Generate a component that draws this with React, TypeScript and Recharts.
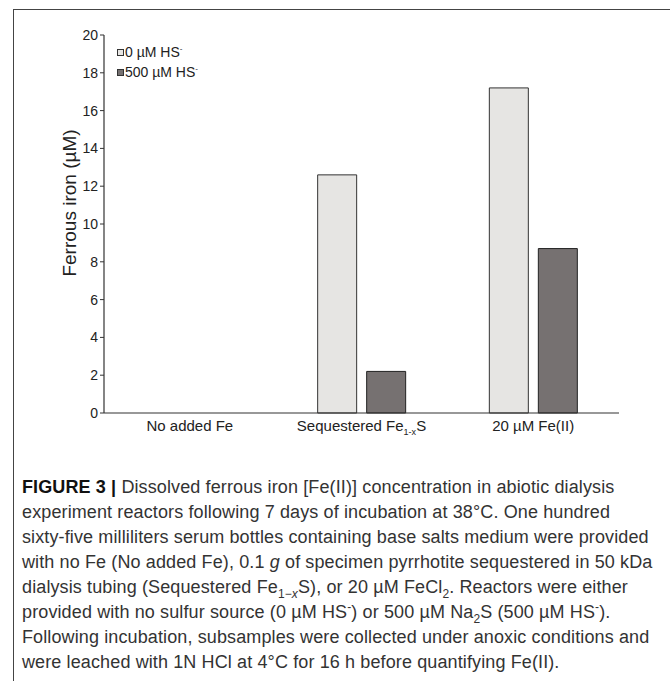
import React from 'react';
import { BarChart, Bar, XAxis, YAxis } from 'recharts';

const categories = ['No added Fe', 'Sequestered Fe1-xS', '20 µM Fe(II)'];
const noSulfide = [0, 12.6, 17.2];
const withSulfide = [0, 2.2, 8.7];
const yTicks = [0, 2, 4, 6, 8, 10, 12, 14, 16, 18, 20];
const legendLabels = ['0 µM HS', '500 µM HS'];

const data = categories.map((name, i) => ({
  name,
  hs0: noSulfide[i],
  hs500: withSulfide[i],
}));

const captionLines = [
  ['FIGURE 3 | ', 'Dissolved ferrous iron [Fe(II)] concentration in abiotic dialysis'],
  ['', 'experiment reactors following 7 days of incubation at 38°C. One hundred'],
  ['', 'sixty-five milliliters serum bottles containing base salts medium were provided'],
  ['', 'with no Fe (No added Fe), 0.1 g of specimen pyrrhotite sequestered in 50 kDa'],
  ['', 'dialysis tubing (Sequestered Fe1−xS), or 20 µM FeCl2. Reactors were either'],
  ['', 'provided with no sulfur source (0 µM HS-) or 500 µM Na2S (500 µM HS-).'],
  ['', 'Following incubation, subsamples were collected under anoxic conditions and'],
  ['', 'were leached with 1N HCl at 4°C for 16 h before quantifying Fe(II).'],
];

const FONT = '"Liberation Sans", Arial, Helvetica, sans-serif';
const LIGHT = '#e6e5e3';
const DARK = '#767171';

const XTick = ({ x, y, payload }: any) => {
  const v: string = payload.value;
  if (v === 'Sequestered Fe1-xS') {
    return (
      <text x={x} y={y + 10} textAnchor="middle" fontSize={15} fill="#222" fontFamily={FONT}>
        Sequestered Fe
        <tspan fontSize={9} dy={4}>1-x</tspan>
        <tspan dy={-4}>S</tspan>
      </text>
    );
  }
  return (
    <text x={x} y={y + 10} textAnchor="middle" fontSize={15} fill="#222" fontFamily={FONT}>
      {v}
    </text>
  );
};

const subStyle: React.CSSProperties = { fontSize: 12, lineHeight: 0 };

// caption line with sub/superscripts
const renderCaption = (t: string) => {
  const parts: React.ReactNode[] = [];
  const re = /(Fe1−x|FeCl2|Na2S|HS-| g )/g;
  let last = 0;
  let m: RegExpExecArray | null;
  let k = 0;
  while ((m = re.exec(t)) !== null) {
    parts.push(t.slice(last, m.index));
    const s = m[0];
    if (s === 'Fe1−x') parts.push(<span key={k++}>Fe<sub style={subStyle}>1−<i>x</i></sub></span>);
    else if (s === 'FeCl2') parts.push(<span key={k++}>FeCl<sub style={subStyle}>2</sub></span>);
    else if (s === 'Na2S') parts.push(<span key={k++}>Na<sub style={subStyle}>2</sub>S</span>);
    else if (s === 'HS-') parts.push(<span key={k++}>HS<sup style={subStyle}>-</sup></span>);
    else parts.push(<span key={k++}> <i>g</i> </span>);
    last = m.index + s.length;
  }
  parts.push(t.slice(last));
  return parts;
};

export default function App() {
  return (
    <div style={{ position: 'absolute', left: 0, top: 0, width: 670, height: 681, background: '#fff', overflow: 'hidden' }}>
      <div style={{ position: 'absolute', left: 13, top: 9, width: 657, height: 0, borderTop: '1.5px solid #444' }} />
      <div style={{ position: 'absolute', left: 13, top: 9, width: 0, height: 672, borderLeft: '1.5px solid #444' }} />
      <div style={{ position: 'absolute', left: 0, top: 0 }}>
        <BarChart
          width={670}
          height={470}
          data={data}
          margin={{ top: 35, right: 51, left: 44, bottom: 27 }}
          barSize={39}
          barGap={10}
        >
          <XAxis
            dataKey="name"
            tick={<XTick />}
            tickLine={false}
            axisLine={{ stroke: '#333', strokeWidth: 1.2 }}
            height={30}
            interval={0}
          />
          <XAxis xAxisId="top" orientation="top" dataKey="name" tick={false} tickLine={false} height={0} axisLine={{ stroke: '#555' }} />
          <YAxis
            domain={[0, 20]}
            ticks={yTicks}
            interval={0}
            width={60}
            tick={{ fill: '#222', fontSize: 14, fontFamily: FONT }}
            tickLine={{ stroke: '#333' }}
            tickSize={4}
            axisLine={{ stroke: '#333', strokeWidth: 1.2 }}
            label={{
              value: 'Ferrous iron (µM)',
              angle: -90,
              position: 'insideLeft',
              offset: 0,
              dx: 25,
              dy: -21,
              style: { fontSize: 19, fill: '#222', fontFamily: FONT, textAnchor: 'middle' },
            }}
          />
          <YAxis yAxisId="right" orientation="right" domain={[0, 20]} tick={false} tickLine={false} width={0} axisLine={{ stroke: '#777', strokeWidth: 1.5 }} />
          <Bar dataKey="hs0" fill={LIGHT} stroke="#333" strokeWidth={1} isAnimationActive={false} />
          <Bar dataKey="hs500" fill={DARK} stroke="#222" strokeWidth={1} isAnimationActive={false} />
        </BarChart>
      </div>
      <div style={{ position: 'absolute', left: 117, top: 42, fontFamily: FONT, fontSize: 14, color: '#222', lineHeight: '20px' }}>
        {legendLabels.map((label, i) => (
          <div key={label} style={{ display: 'flex', alignItems: 'center', height: 20 }}>
            <span
              style={{
                display: 'inline-block',
                width: 5,
                height: 5,
                background: i === 0 ? LIGHT : DARK,
                border: '1px solid #333',
                marginRight: 1,
              }}
            />
            <span>
              {label}
              <sup style={{ fontSize: 8, lineHeight: 0 }}>-</sup>
            </span>
          </div>
        ))}
      </div>
      <div
        style={{
          position: 'absolute',
          left: 22,
          top: 475,
          fontFamily: FONT,
          fontSize: 18,
          lineHeight: '25px',
          letterSpacing: 0.12,
          color: '#333',
          whiteSpace: 'nowrap',
        }}
      >
        {captionLines.map(([bold, rest], i) => (
          <div key={i} style={{ height: 25 }}>
            {bold && <b style={{ color: '#111' }}>{bold}</b>}
            {renderCaption(rest)}
          </div>
        ))}
      </div>
    </div>
  );
}
